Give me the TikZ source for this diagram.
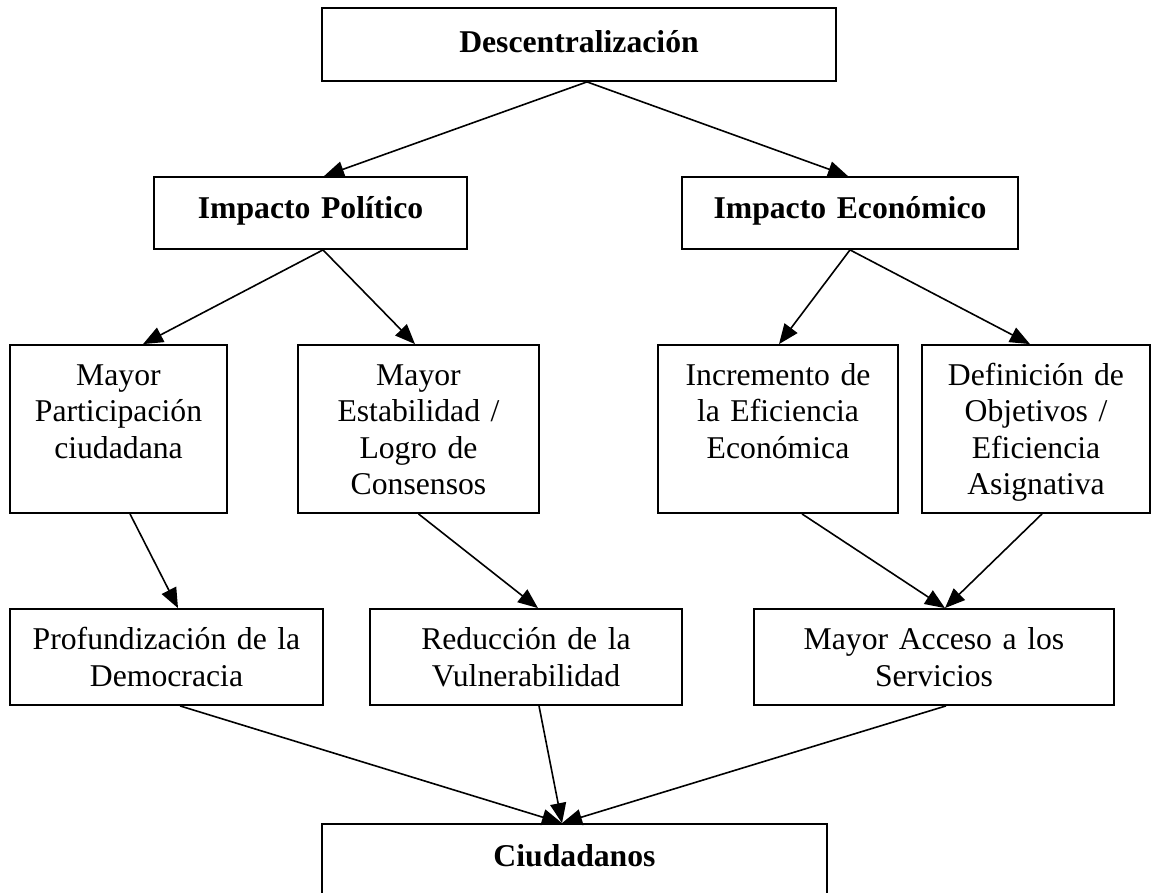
\documentclass[tikz,border=0pt]{standalone}
\usepackage{fontspec}
\setmainfont{Liberation Serif}
\usetikzlibrary{arrows.meta}

\tikzset{
  box/.style={draw, line width=1.8pt, rectangle, inner sep=0pt},
  lbl/.style={inner sep=0pt, anchor=base, text width=330pt, align=center,
              font=\fontsize{31.7pt}{36.5pt}\selectfont},
  lblwide/.style={lbl, font=\fontsize{31.7pt}{37pt}\selectfont},
  head/.style={lbl, font=\fontsize{31.7pt}{36.5pt}\selectfont\bfseries},
  arr/.style={line width=1.6pt, -{Triangle[length=20pt,width=16pt]}}
}

\begin{document}
\begin{tikzpicture}[x=1pt, y=-1pt]
  \useasboundingbox (0,0) rectangle (1157,892);
  \clip (0,0) rectangle (1157,892);

  % boxes (centre and size in px-like units)
  \node[box, minimum width=514pt, minimum height=73pt] (top) at (579,44.5) {};
  \node[box, minimum width=313pt, minimum height=72pt] (pol) at (310.5,213) {};
  \node[box, minimum width=336pt, minimum height=72pt] (eco) at (850,213) {};

  \node[box, minimum width=217pt, minimum height=168pt] (mp)  at (118.5,429) {};
  \node[box, minimum width=241pt, minimum height=168pt] (me)  at (418.5,429) {};
  \node[box, minimum width=240pt, minimum height=168pt] (inc) at (778,429) {};
  \node[box, minimum width=228pt, minimum height=168pt] (def) at (1036,429) {};

  \node[box, minimum width=313pt, minimum height=96pt] (prof) at (166.5,657) {};
  \node[box, minimum width=312pt, minimum height=96pt] (red)  at (526,657) {};
  \node[box, minimum width=360pt, minimum height=96pt] (acc)  at (934,657) {};

  \node[box, minimum width=505pt, minimum height=80pt] (ciu) at (574.5,864) {};

  % texts
  \node[head] (topt) at (579,52) {Descentralización};
  \node[head] (polt) at (310.5,218) {Impacto Político};
  \node[head] (ecot) at (850,218) {Impacto Económico};

  \node[lbl] (mpt)  at (118.5,385) {Mayor\\Participación\\ciudadana};
  \node[lbl] (met)  at (418.5,385) {Mayor\\Estabilidad /\\Logro de\\Consensos};
  \node[lbl] (inct) at (778,385) {Incremento de\\la Eficiencia\\Económica};
  \node[lbl] (deft) at (1036,385) {Definición de\\Objetivos /\\Eficiencia\\Asignativa};

  \node[lblwide] (proft) at (166.5,649) {Profundización de la\\Democracia};
  \node[lblwide] (redt)  at (526,649) {Reducción de la\\Vulnerabilidad};
  \node[lblwide] (acct)  at (934,649) {Mayor Acceso a los\\Servicios};

  \node[head] (ciut) at (574.5,866) {Ciudadanos};

  % connectors
  \draw[arr] ([xshift=8pt]top.south) -- ([xshift=13.5pt]pol.north);
  \draw[arr] ([xshift=8pt]top.south) -- ([xshift=-2pt]eco.north);

  \draw[arr] ([xshift=12.5pt]pol.south) -- ([xshift=24.5pt]mp.north);
  \draw[arr] ([xshift=12.5pt]pol.south) -- ([xshift=-3.5pt]me.north);
  \draw[arr] (eco.south) -- ([xshift=1pt]inc.north);
  \draw[arr] (eco.south) -- ([xshift=-6pt]def.north);

  \draw[arr] ([xshift=11.5pt]mp.south) -- ([xshift=11.5pt]prof.north);
  \draw[arr] (me.south) -- ([xshift=12pt]red.north);
  \draw[arr] ([xshift=24pt]inc.south) -- ([xshift=11pt]acc.north);
  \draw[arr] ([xshift=6pt]def.south) -- ([xshift=11pt]acc.north);

  \draw[arr] ([xshift=13.5pt]prof.south) -- ([xshift=-12.5pt]ciu.north);
  \draw[arr] ([xshift=13pt]red.south) -- ([xshift=-12.5pt]ciu.north);
  \draw[arr] ([xshift=12pt]acc.south) -- ([xshift=-12.5pt]ciu.north);
\end{tikzpicture}
\end{document}
